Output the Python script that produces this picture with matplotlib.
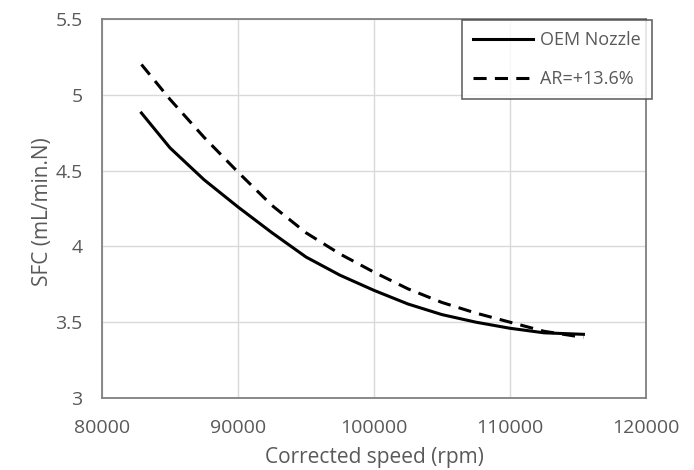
import matplotlib
matplotlib.use('Agg')
import matplotlib.pyplot as plt
import numpy as np

plt.rcParams['font.family'] = ['Open Sans', 'DejaVu Sans']

# corrected speed (rpm)
speed = [82900, 85000, 87500, 90000, 92500, 95000, 97500, 100000,
         102500, 105000, 107500, 110000, 112500, 115400]
# SFC (mL/min.N)
sfc_oem = [4.88, 4.65, 4.44, 4.26, 4.09, 3.93, 3.81, 3.71,
           3.62, 3.55, 3.50, 3.46, 3.43, 3.42]
sfc_ar = [5.20, 4.97, 4.72, 4.49, 4.27, 4.09, 3.95, 3.83,
          3.72, 3.63, 3.56, 3.50, 3.44, 3.40]

xticks = [80000, 90000, 100000, 110000, 120000]
yticks = [3, 3.5, 4, 4.5, 5, 5.5]
yticklabels = ['3', '3.5', '4', '4.5', '5', '5.5']

txt = '#595959'
W, H = 694, 470
fig = plt.figure(figsize=(W / 100, H / 100), dpi=100)
ax = fig.add_axes([102 / W, 1 - 398 / H, 544 / W, 379 / H])

ax.plot(speed, sfc_oem, color='black', lw=2.2, label='OEM Nozzle')
ax.plot(speed, sfc_ar, color='black', lw=2.2, dashes=(4.3, 2.7), label='AR=+13.6%')

ax.set_xlim(80000, 120000)
ax.set_ylim(3, 5.5)
ax.set_xticks(xticks)
ax.set_xticklabels([str(x) for x in xticks])
ax.set_yticks(yticks)
ax.set_yticklabels(yticklabels)
ax.grid(True, color='#d9d9d9', lw=1)
ax.set_axisbelow(True)
ax.tick_params(axis='both', length=0, labelsize=14, colors=txt)
ax.tick_params(axis='x', pad=15)
ax.tick_params(axis='y', pad=14)
for s in ax.spines.values():
    s.set_color('#808080')
    s.set_linewidth(1.3)

# axis titles placed like the Excel original
fig.text(374 / W, 1 - 458 / H, 'Corrected speed (rpm)', fontsize=15, color=txt,
         ha='center', va='center')
fig.text(43 / W, 1 - 212 / H, 'SFC (mL/min.N)', fontsize=15, color=txt,
         ha='center', va='center', rotation=90)

leg = ax.legend(loc='upper right', bbox_to_anchor=(652 / W, 1 - 20 / H),
                bbox_transform=fig.transFigure, fontsize=13, frameon=True,
                fancybox=False, edgecolor='#404040', handlelength=3.3,
                handletextpad=0.4, labelspacing=1.16, borderpad=0.62,
                borderaxespad=0)
leg.get_frame().set_linewidth(1.2)
for t in leg.get_texts():
    t.set_color(txt)

fig.savefig('out.png', dpi=100)
